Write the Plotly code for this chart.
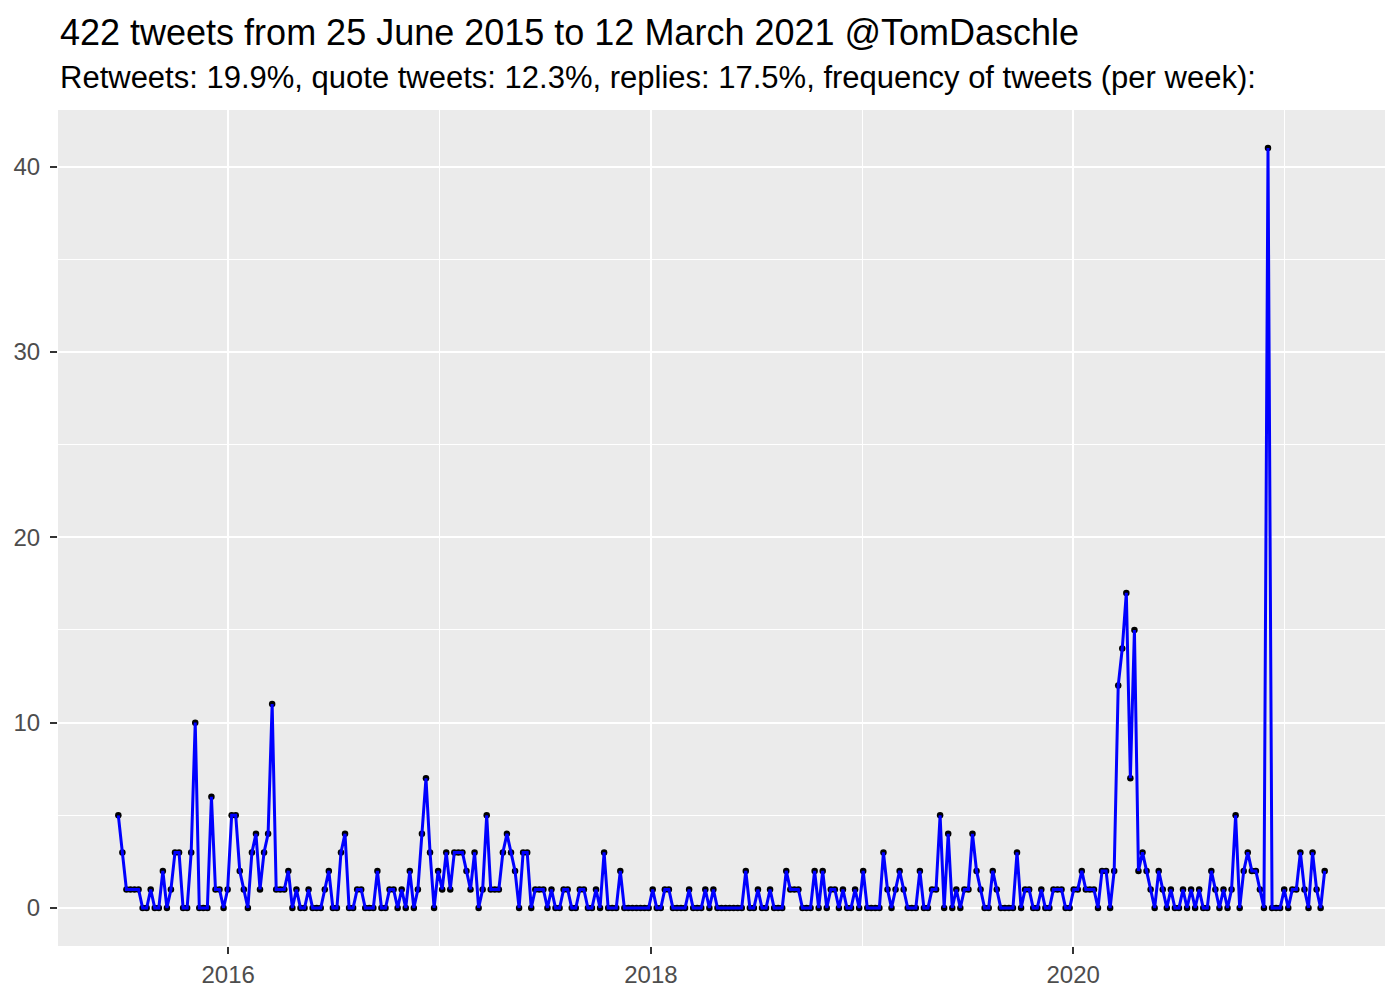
import pandas as pd
import plotly.graph_objects as go

# Weekly tweet counts, week starting 2015-06-25
start_date = "2015-06-25"
counts = [
    5, 3, 1, 1, 1, 1, 0, 0, 1, 0,
    0, 2, 0, 1, 3, 3, 0, 0, 3, 10,
    0, 0, 0, 6, 1, 1, 0, 1, 5, 5,
    2, 1, 0, 3, 4, 1, 3, 4, 11, 1,
    1, 1, 2, 0, 1, 0, 0, 1, 0, 0,
    0, 1, 2, 0, 0, 3, 4, 0, 0, 1,
    1, 0, 0, 0, 2, 0, 0, 1, 1, 0,
    1, 0, 2, 0, 1, 4, 7, 3, 0, 2,
    1, 3, 1, 3, 3, 3, 2, 1, 3, 0,
    1, 5, 1, 1, 1, 3, 4, 3, 2, 0,
    3, 3, 0, 1, 1, 1, 0, 1, 0, 0,
    1, 1, 0, 0, 1, 1, 0, 0, 1, 0,
    3, 0, 0, 0, 2, 0, 0, 0, 0, 0,
    0, 0, 1, 0, 0, 1, 1, 0, 0, 0,
    0, 1, 0, 0, 0, 1, 0, 1, 0, 0,
    0, 0, 0, 0, 0, 2, 0, 0, 1, 0,
    0, 1, 0, 0, 0, 2, 1, 1, 1, 0,
    0, 0, 2, 0, 2, 0, 1, 1, 0, 1,
    0, 0, 1, 0, 2, 0, 0, 0, 0, 3,
    1, 0, 1, 2, 1, 0, 0, 0, 2, 0,
    0, 1, 1, 5, 0, 4, 0, 1, 0, 1,
    1, 4, 2, 1, 0, 0, 2, 1, 0, 0,
    0, 0, 3, 0, 1, 1, 0, 0, 1, 0,
    0, 1, 1, 1, 0, 0, 1, 1, 2, 1,
    1, 1, 0, 2, 2, 0, 2, 12, 14, 17,
    7, 15, 2, 3, 2, 1, 0, 2, 1, 0,
    1, 0, 0, 1, 0, 1, 0, 1, 0, 0,
    2, 1, 0, 1, 0, 1, 5, 0, 2, 3,
    2, 2, 1, 0, 41, 0, 0, 0, 1, 0,
    1, 1, 3, 1, 0, 3, 1, 0, 2,
]
weeks = pd.date_range(start_date, periods=len(counts), freq="7D")

title_text = "422 tweets from 25 June 2015 to 12 March 2021 @TomDaschle"
subtitle_text = ("Retweets: 19.9%, quote tweets: 12.3%, replies: 17.5%, "
                 "frequency of tweets (per week):")
y_ticks = [0, 10, 20, 30, 40]
y_minor = [5, 15, 25, 35]
x_ticks = ["2016-01-01", "2018-01-01", "2020-01-01"]
x_tick_labels = ["2016", "2018", "2020"]
x_minor = ["2017-01-01", "2019-01-01", "2021-01-01"]

font = "Liberation Sans, Arial, Helvetica, sans-serif"

fig = go.Figure()
fig.add_trace(go.Scatter(x=weeks, y=counts, mode="markers",
                         marker=dict(color="black", size=6.5),
                         showlegend=False))
fig.add_trace(go.Scatter(x=weeks, y=counts, mode="lines",
                         line=dict(color="#0000FF", width=3),
                         hoverinfo="skip", showlegend=False))

span = weeks[-1] - weeks[0]
pad = span * 0.05

axis_common = dict(
    showgrid=True, gridcolor="white", gridwidth=2.2,
    ticks="outside", ticklen=7, tickcolor="#333333", tickwidth=1.6,
    zeroline=False, showline=False, automargin=False,
    tickfont=dict(family=font, size=24, color="#4D4D4D"),
)

fig.update_layout(
    width=1400, height=1000,
    margin=dict(l=50, r=23, t=102, b=62),
    paper_bgcolor="white",
    plot_bgcolor="#EBEBEB",
    font=dict(family=font, color="#4D4D4D", size=24),
    xaxis=dict(
        range=[weeks[0] - pad, weeks[-1] + pad],
        tickmode="array", tickvals=x_ticks, ticktext=x_tick_labels,
        minor=dict(tickmode="array", tickvals=x_minor, showgrid=True,
                   gridcolor="white", gridwidth=1.1),
        ticklabelstandoff=0,
        **axis_common,
    ),
    yaxis=dict(
        range=[-2.05, 43.05],
        tickmode="array", tickvals=y_ticks,
        minor=dict(tickmode="array", tickvals=y_minor, showgrid=True,
                   gridcolor="white", gridwidth=1.1),
        ticklabelstandoff=5,
        **axis_common,
    ),
    annotations=[
        dict(text=title_text, xref="paper", yref="paper", x=0, y=1,
             yshift=78, xanchor="left", yanchor="middle", showarrow=False,
             font=dict(family=font, size=36, color="black")),
        dict(text=subtitle_text, xref="paper", yref="paper", x=0, y=1,
             yshift=33, xanchor="left", yanchor="middle", showarrow=False,
             font=dict(family=font, size=31, color="black")),
    ],
)

fig.write_html("out.html")
